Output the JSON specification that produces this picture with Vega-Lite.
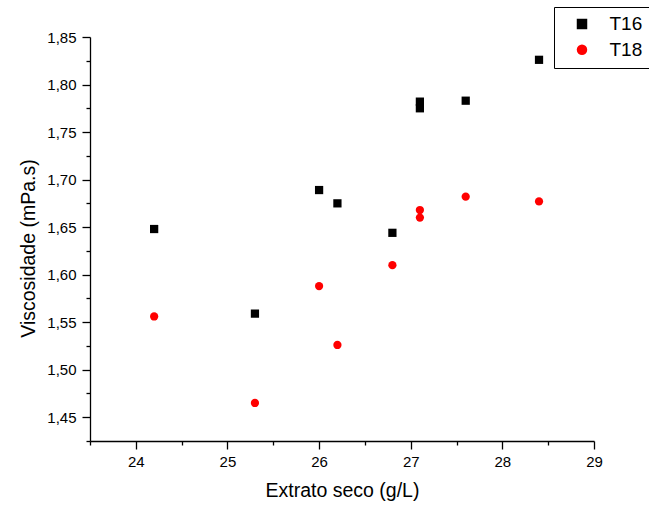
{
  "$schema": "https://vega.github.io/schema/vega-lite/v6.json",
  "width": 504,
  "height": 404,
  "autosize": {"type": "none"},
  "padding": {"left": 90, "top": 37, "right": 55, "bottom": 65},
  "background": "white",
  "config": {
    "view": {"stroke": null},
    "font": "Liberation Sans",
    "axis": {
      "grid": false,
      "domainColor": "black",
      "domainWidth": 1.3,
      "tickColor": "black",
      "tickWidth": 1.3,
      "labelColor": "black",
      "titleColor": "black",
      "labelFont": "Liberation Sans",
      "titleFont": "Liberation Sans",
      "labelFontSize": 15,
      "titleFontSize": 19.5,
      "titleFontWeight": "normal"
    }
  },
  "data": {
    "values": [
      {"x": 24.2, "y": 1.648, "s": "T16"},
      {"x": 25.3, "y": 1.559, "s": "T16"},
      {"x": 26.0, "y": 1.689, "s": "T16"},
      {"x": 26.2, "y": 1.675, "s": "T16"},
      {"x": 26.8, "y": 1.644, "s": "T16"},
      {"x": 27.1, "y": 1.782, "s": "T16"},
      {"x": 27.1, "y": 1.775, "s": "T16"},
      {"x": 27.6, "y": 1.783, "s": "T16"},
      {"x": 28.4, "y": 1.826, "s": "T16"},
      {"x": 24.2, "y": 1.556, "s": "T18"},
      {"x": 25.3, "y": 1.465, "s": "T18"},
      {"x": 26.0, "y": 1.588, "s": "T18"},
      {"x": 26.2, "y": 1.526, "s": "T18"},
      {"x": 26.8, "y": 1.610, "s": "T18"},
      {"x": 27.1, "y": 1.668, "s": "T18"},
      {"x": 27.1, "y": 1.660, "s": "T18"},
      {"x": 27.6, "y": 1.682, "s": "T18"},
      {"x": 28.4, "y": 1.677, "s": "T18"}
    ]
  },
  "mark": {"type": "point", "filled": true, "opacity": 1, "size": 68, "strokeWidth": 0},
  "encoding": {
    "x": {
      "field": "x",
      "type": "quantitative",
      "scale": {"domain": [23.5, 29], "nice": false, "zero": false},
      "axis": {
        "title": "Extrato seco (g/L)",
        "values": [23.5, 24, 24.5, 25, 25.5, 26, 26.5, 27, 27.5, 28, 28.5, 29],
        "labelExpr": "datum.value == floor(datum.value) ? format(datum.value, '.0f') : ''",
        "tickSize": {"condition": {"test": "datum.value == floor(datum.value)", "value": 8}, "value": 4},
        "labelPadding": 5,
        "titlePadding": 12,
        "labelFlush": false,
        "labelOverlap": false
      }
    },
    "y": {
      "field": "y",
      "type": "quantitative",
      "scale": {"domain": [1.425, 1.85], "nice": false, "zero": false},
      "axis": {
        "title": "Viscosidade (mPa.s)",
        "values": [1.425, 1.45, 1.475, 1.5, 1.525, 1.55, 1.575, 1.6, 1.625, 1.65, 1.675, 1.7, 1.725, 1.75, 1.775, 1.8, 1.825, 1.85],
        "labelExpr": "abs(datum.value*20 - round(datum.value*20)) < 0.01 ? replace(format(datum.value, '.2f'), '.', ',') : ''",
        "tickSize": {"condition": {"test": "abs(datum.value*20 - round(datum.value*20)) < 0.01", "value": 8}, "value": 4},
        "labelPadding": 6,
        "titlePadding": 8,
        "titleY": 211,
        "labelFlush": false,
        "labelOverlap": false
      }
    },
    "shape": {
      "field": "s",
      "type": "nominal",
      "scale": {"domain": ["T16", "T18"], "range": ["square", "circle"]},
      "legend": {
        "title": null,
        "orient": "none",
        "legendX": 464,
        "legendY": -30,
        "strokeColor": "black",
        "fillColor": "white",
        "padding": 7.5,
        "symbolOffset": 11,
        "labelOffset": 18,
        "rowPadding": 5.7,
        "symbolSize": 110,
        "symbolStrokeWidth": 0,
        "labelFontSize": 19,
        "labelFont": "Liberation Sans",
        "labelColor": "black"
      }
    },
    "color": {
      "field": "s",
      "type": "nominal",
      "scale": {"domain": ["T16", "T18"], "range": ["#000000", "#ff0000"]},
      "legend": {
        "title": null,
        "orient": "none",
        "legendX": 464,
        "legendY": -30,
        "strokeColor": "black",
        "fillColor": "white",
        "padding": 7.5,
        "symbolOffset": 11,
        "labelOffset": 18,
        "rowPadding": 5.7,
        "symbolSize": 110,
        "symbolStrokeWidth": 0,
        "labelFontSize": 19,
        "labelFont": "Liberation Sans",
        "labelColor": "black"
      }
    }
  }
}
